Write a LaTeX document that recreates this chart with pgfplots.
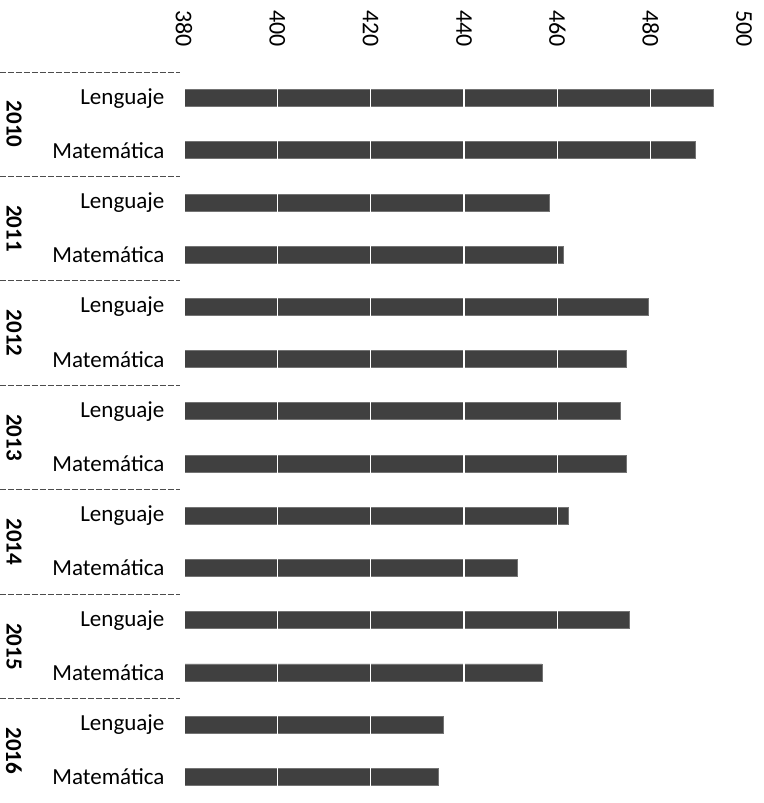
\documentclass[border=0pt]{standalone}
\usepackage{pgfplots}
\pgfplotsset{compat=1.18}
\usepackage{fontspec}
\setmainfont{Carlito}
\begin{document}
\begin{tikzpicture}
\begin{axis}[
  scale only axis=true,
  width=280pt, height=365.5pt,
  xbar, bar width=8.5pt,
  xmin=380, xmax=500,
  ymin=-0.5, ymax=13.5,
  y dir=reverse,
  xtick={380,400,420,440,460,480,500},
  xticklabel pos=upper,
  xticklabel shift=9pt,
  xticklabel style={rotate=-90, anchor=east, font=\fontsize{12}{12}\selectfont},
  ytick={0,...,13},
  yticklabels={Lenguaje,Matemática,Lenguaje,Matemática,Lenguaje,Matemática,Lenguaje,Matemática,Lenguaje,Matemática,Lenguaje,Matemática,Lenguaje,Matemática},
  yticklabel style={font=\fontsize{11.5}{12}\selectfont, xshift=-2pt},
  /pgf/number format/assume math mode=true,
  axis line style={draw=none},
  major tick style={draw=none},
  xmajorgrids=true,
  grid style={white, line width=0.7pt},
  axis on top=true,
  clip=false,
]
\addplot[fill=black!75, draw=black!55] coordinates {
  (493.4,0) (489.5,1)
  (458.4,2) (461.4,3)
  (479.5,4) (474.8,5)
  (473.5,6) (474.8,7)
  (462.4,8) (451.5,9)
  (475.5,10) (456.7,11)
  (435.5,12) (434.5,13)
};
\pgfplotsinvokeforeach{-0.5,1.5,3.5,5.5,7.5,9.5,11.5}{
  \draw[black!70, line width=0.5pt, dash pattern=on 3pt off 1pt]
    ([xshift=-92pt]axis cs:380,#1) -- ([xshift=-2pt]axis cs:380,#1);
}
\node[rotate=-90, font=\bfseries\fontsize{11.5}{12}\selectfont] at ([xshift=-85pt]axis cs:380,0.5) {2010};
\node[rotate=-90, font=\bfseries\fontsize{11.5}{12}\selectfont] at ([xshift=-85pt]axis cs:380,2.5) {2011};
\node[rotate=-90, font=\bfseries\fontsize{11.5}{12}\selectfont] at ([xshift=-85pt]axis cs:380,4.5) {2012};
\node[rotate=-90, font=\bfseries\fontsize{11.5}{12}\selectfont] at ([xshift=-85pt]axis cs:380,6.5) {2013};
\node[rotate=-90, font=\bfseries\fontsize{11.5}{12}\selectfont] at ([xshift=-85pt]axis cs:380,8.5) {2014};
\node[rotate=-90, font=\bfseries\fontsize{11.5}{12}\selectfont] at ([xshift=-85pt]axis cs:380,10.5) {2015};
\node[rotate=-90, font=\bfseries\fontsize{11.5}{12}\selectfont] at ([xshift=-85pt]axis cs:380,12.5) {2016};
\end{axis}
\pgfresetboundingbox
\path[use as bounding box] (-92pt,0pt) rectangle (290pt,401.5pt);
\end{tikzpicture}
\end{document}
